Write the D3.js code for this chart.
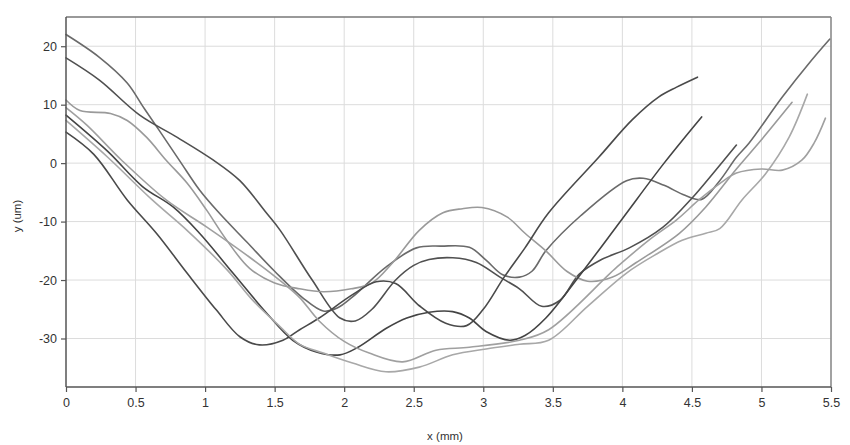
<!DOCTYPE html>
<html>
<head>
<meta charset="utf-8">
<script src="https://cdn.jsdelivr.net/npm/d3@7/dist/d3.min.js"></script>
<style>
  html, body { margin: 0; padding: 0; background: #fff; }
  svg { display: block; }
  text { font-family: "Liberation Sans", Arial, sans-serif; fill: #333; }
</style>
</head>
<body>
<svg id="chart" width="850" height="445"></svg>
<script>
// ---------- data ----------
const xTicks = [0, 0.5, 1, 1.5, 2, 2.5, 3, 3.5, 4, 4.5, 5, 5.5];
const xTickLabels = ["0", "0.5", "1", "1.5", "2", "2.5", "3", "3.5", "4", "4.5", "5", "5.5"];
const yTicks = [20, 10, 0, -10, -20, -30];
const yTickLabels = ["20", "10", "0", "-10", "-20", "-30"];
const xLabel = "x (mm)";
const yLabel = "y (um)";

// profile 1 : starts at 22, plateau near -14, hump at 4.1, ends at 21
const profile1X = [0, 0.24, 0.44, 0.55, 0.67, 0.82, 0.96, 1.1, 1.3, 1.5, 1.7, 1.85, 1.95, 2.06, 2.3, 2.52, 2.7, 2.9, 3.02, 3.14, 3.26, 3.35, 3.45, 3.7, 4.03, 4.15, 4.3, 4.45, 4.57, 4.7, 4.82, 4.91, 5.15, 5.36, 5.49];
const profile1Y = [22, 18.1, 13.7, 9.8, 5.6, 0.3, -4.6, -8.5, -13.5, -18.5, -23, -25.3, -24.8, -22.9, -17.8, -14.5, -14.2, -14.4, -16.6, -19.1, -19.5, -18.5, -15, -9, -3, -2.6, -3.8, -5.5, -6.2, -3, 1, 3.4, 11.3, 17.6, 21.2];

// profile 2 : starts at 18, min at 2.05, peak -16 at 2.75, ends at 3 (x 4.82)
const profile2X = [0, 0.24, 0.53, 0.8, 1.06, 1.25, 1.44, 1.54, 1.77, 1.97, 2.08, 2.2, 2.37, 2.5, 2.61, 2.78, 2.95, 3.12, 3.26, 3.42, 3.55, 3.69, 3.85, 4.05, 4.29, 4.5, 4.65, 4.82];
const profile2Y = [18, 14.2, 8.2, 4.4, 0.5, -3, -8.5, -11.5, -20, -26.5, -27, -25, -20, -17.5, -16.5, -16.2, -17, -19.5, -21.5, -24.5, -23.5, -19, -16.5, -14.5, -11, -6, -1.8, 3.1];

// profile 3 : starts at 11, min -22 at 1.85, bump -7.5 at 3.0, ends at 10.4 (x 5.22)
const profile3X = [0, 0.1, 0.32, 0.44, 0.58, 0.72, 0.87, 1.01, 1.15, 1.32, 1.5, 1.68, 1.85, 2.05, 2.2, 2.35, 2.54, 2.71, 2.85, 2.99, 3.17, 3.3, 3.45, 3.6, 3.75, 3.93, 4.1, 4.41, 4.6, 4.82, 5.0, 5.22];
const profile3Y = [10.8, 9, 8.5, 7.3, 4.4, 0.5, -3.4, -8, -13, -18, -20.5, -21.5, -22, -21.5, -20.5, -17, -11.5, -8.5, -7.8, -7.6, -9.2, -12, -15, -18.5, -20.2, -19.5, -17, -12, -7.5, -1, 4, 10.4];

// profile 4 : starts at 5.3, min -31 at 1.4, ends at 14.7 (x 4.54)
const profile4X = [0, 0.2, 0.44, 0.65, 0.87, 1.08, 1.25, 1.39, 1.56, 1.68, 1.82, 2.06, 2.23, 2.37, 2.54, 2.73, 2.88, 3.0, 3.15, 3.3, 3.47, 3.83, 4.07, 4.26, 4.39, 4.54];
const profile4Y = [5.3, 1.5, -6.3, -12, -18.8, -25.1, -29.7, -31.1, -30.3, -28.5, -26.5, -22.5, -20.3, -20.6, -24.4, -27.4, -27.8, -25, -19.5, -14.5, -8.5, 1, 7.4, 11.3, 13, 14.7];

// profile 5 : starts at 8.2, min -33 at 1.97, min -30 at 3.2, ends at 7.9 (x 4.57)
const profile5X = [0, 0.3, 0.55, 0.77, 0.96, 1.2, 1.44, 1.63, 1.8, 1.97, 2.1, 2.3, 2.45, 2.61, 2.78, 2.9, 3.02, 3.19, 3.3, 3.45, 3.7, 4.0, 4.3, 4.57];
const profile5Y = [8.2, 2, -4, -7.5, -12, -18.8, -25.6, -30.3, -32.3, -32.8, -31.5, -28.3, -26.5, -25.5, -25.4, -26.5, -28.8, -30.3, -29.5, -26.5, -19, -9.5, 0, 7.9];

// profile 6 : starts at 7.3, min -35.7 at 2.3, ends at 11.8 (x 5.33)
const profile6X = [0, 0.3, 0.62, 0.87, 1.16, 1.34, 1.54, 1.68, 1.85, 2.06, 2.3, 2.54, 2.78, 3.02, 3.26, 3.47, 3.75, 4.03, 4.25, 4.43, 4.6, 4.7, 4.86, 5.03, 5.2, 5.33];
const profile6Y = [7.3, 1, -6.3, -11.5, -18.3, -23.4, -28, -31, -32.5, -34.2, -35.7, -34.9, -32.8, -31.8, -31, -30.3, -24.5, -18.8, -15.5, -13.2, -12, -11.2, -6.3, -1.8, 4.5, 11.8];

// profile 7 : starts at 9.5, min -34 at 2.4, plateau near -1 at 5.0, ends at 7.7 (x 5.46)
const profile7X = [0, 0.15, 0.4, 0.72, 1.01, 1.32, 1.56, 1.68, 1.82, 2.0, 2.18, 2.42, 2.66, 2.9, 3.26, 3.47, 3.96, 4.2, 4.39, 4.55, 4.7, 4.82, 5.0, 5.15, 5.29, 5.38, 5.46];
const profile7Y = [9.5, 6.5, 0.5, -6.3, -10.9, -16.1, -20.5, -23, -27, -30.5, -32.5, -34, -32, -31.5, -30.3, -28.5, -17.8, -13, -9.7, -6.3, -3.5, -1.7, -1, -1.2, 0.5, 3.5, 7.7];

const seriesX = [profile1X, profile2X, profile3X, profile4X, profile5X, profile6X, profile7X];
const seriesY = [profile1Y, profile2Y, profile3Y, profile4Y, profile5Y, profile6Y, profile7Y];
const seriesColor = ["#6a6a6a", "#505050", "#9a9a9a", "#4a4a4a", "#444444", "#a8a8a8", "#a0a0a0"];

// ---------- layout ----------
const svg = d3.select("#chart");
const mLeft = 66, mRight = 831, mTop = 17, mBottom = 387;

const x = d3.scaleLinear().domain([0, 5.5]).range([mLeft, mRight]);
const y = d3.scaleLinear().domain([-38.3, 25]).range([mBottom, mTop]);

// grid
svg.append("g").selectAll("line").data(xTicks.slice(1)).join("line")
  .attr("x1", d => x(d)).attr("x2", d => x(d))
  .attr("y1", mTop).attr("y2", mBottom)
  .attr("stroke", "#dcdcdc").attr("stroke-width", 1);
svg.append("g").selectAll("line").data(yTicks).join("line")
  .attr("x1", mLeft).attr("x2", mRight)
  .attr("y1", d => y(d)).attr("y2", d => y(d))
  .attr("stroke", "#dcdcdc").attr("stroke-width", 1);

// frame (top / right)
svg.append("line").attr("x1", mLeft).attr("x2", mRight).attr("y1", mTop).attr("y2", mTop)
  .attr("stroke", "#777").attr("stroke-width", 1.5);
svg.append("line").attr("x1", mRight).attr("x2", mRight).attr("y1", mTop).attr("y2", mBottom)
  .attr("stroke", "#888").attr("stroke-width", 1.5);

// curves
const line = d3.line()
  .x(d => x(d[0]))
  .y(d => y(d[1]))
  .curve(d3.curveCatmullRom.alpha(0.5));

const g = svg.append("g");
seriesX.forEach((xs, i) => {
  const pts = xs.map((v, j) => [v, seriesY[i][j]]);
  g.append("path")
    .attr("d", line(pts))
    .attr("fill", "none")
    .attr("stroke", seriesColor[i])
    .attr("stroke-width", 1.6)
    .attr("stroke-linejoin", "round")
    .attr("stroke-linecap", "round");
});

// axes
const xAxis = d3.axisBottom(x).tickValues(xTicks)
  .tickFormat((d, i) => xTickLabels[i]).tickSize(5).tickPadding(6);
const yAxis = d3.axisLeft(y).tickValues(yTicks)
  .tickFormat((d, i) => yTickLabels[i]).tickSize(5).tickPadding(4);

const gx = svg.append("g").attr("transform", `translate(0,${mBottom})`).call(xAxis);
const gy = svg.append("g").attr("transform", `translate(${mLeft},0)`).call(yAxis);
[gx, gy].forEach(a => {
  a.select(".domain").attr("stroke", "#555").attr("stroke-width", 1.5);
  a.selectAll(".tick line").attr("stroke", "#555").attr("stroke-width", 1.2);
  a.selectAll(".tick text").attr("font-size", 12.5).attr("fill", "#333")
    .style("font-family", "'Liberation Sans', Arial, sans-serif");
});
gx.select(".domain").attr("d", `M${mLeft},0H${mRight}`);
gy.select(".domain").attr("d", `M0,${mTop}V${mBottom}`);

// axis titles
svg.append("text")
  .attr("x", 445).attr("y", 440)
  .attr("text-anchor", "middle")
  .attr("font-size", 11.5)
  .text(xLabel);
svg.append("text")
  .attr("transform", `translate(21,216) rotate(-90)`)
  .attr("text-anchor", "middle")
  .attr("font-size", 11.5)
  .text(yLabel);
</script>
</body>
</html>
